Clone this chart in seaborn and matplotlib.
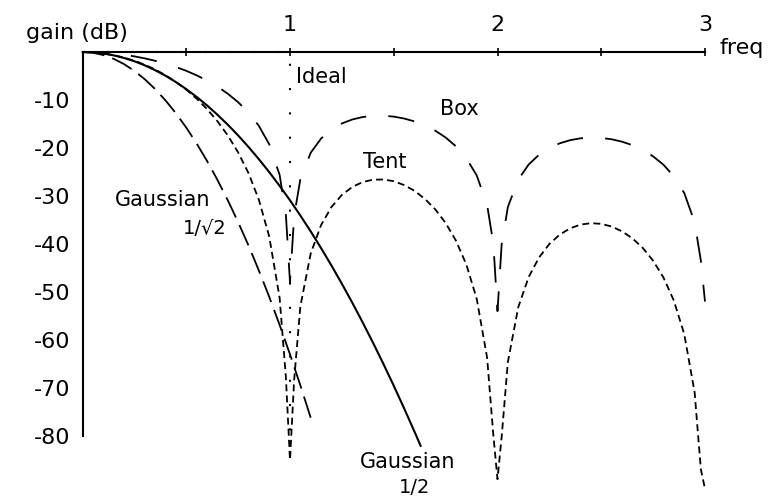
import matplotlib
matplotlib.use("Agg")
import matplotlib.pyplot as plt
import seaborn as sns
import pandas as pd

# Frequency grid shared by the box and tent responses
filter_freq = [
    0.00, 0.05, 0.10, 0.15, 0.20, 0.25, 0.30, 0.35, 0.40, 0.45,
    0.50, 0.55, 0.60, 0.65, 0.70, 0.75, 0.80, 0.85, 0.90, 0.95,
    0.98, 1.00, 1.02,
    1.05, 1.10, 1.15, 1.20, 1.25, 1.30, 1.35, 1.40, 1.45, 1.50,
    1.55, 1.60, 1.65, 1.70, 1.75, 1.80, 1.85, 1.90, 1.95,
    1.98, 2.00, 2.02,
    2.05, 2.10, 2.15, 2.20, 2.25, 2.30, 2.35, 2.40, 2.45, 2.50,
    2.55, 2.60, 2.65, 2.70, 2.75, 2.80, 2.85, 2.90, 2.95,
    2.98, 3.00,
]

box_gain = [
    0.00, -0.04, -0.14, -0.32, -0.58, -0.91, -1.33, -1.83, -2.42, -3.12,
    -3.92, -4.86, -5.94, -7.20, -8.69, -10.45, -12.62, -15.39, -19.23, -25.61,
    -33.81, -48.00, -34.16,
    -26.48, -20.97, -18.02, -16.14, -14.89, -14.06, -13.55, -13.30, -13.28, -13.46,
    -13.86, -14.46, -15.30, -16.39, -17.81, -19.66, -22.15, -25.72, -31.86,
    -39.92, -54.00, -40.09,
    -32.29, -26.59, -23.45, -21.41, -20.00, -19.02, -18.37, -17.98, -17.83, -17.90,
    -18.18, -18.68, -19.41, -20.41, -21.74, -23.50, -25.90, -29.39, -35.45,
    -43.47, -52.00,
]

tent_gain = [
    0.00, -0.07, -0.29, -0.65, -1.16, -1.82, -2.65, -3.65, -4.84, -6.23,
    -7.84, -9.72, -11.88, -14.41, -17.37, -20.91, -25.24, -30.78, -38.46, -51.22,
    -67.62, -85.00, -68.32,
    -52.96, -41.94, -36.04, -32.28, -29.78, -28.12, -27.10, -26.60, -26.56, -26.92,
    -27.72, -28.92, -30.60, -32.78, -35.62, -39.32, -44.30, -51.44, -63.72,
    -79.84, -89.00, -80.18,
    -64.58, -53.18, -46.90, -42.82, -40.00, -38.04, -36.74, -35.96, -35.66, -35.80,
    -36.36, -37.36, -38.82, -40.82, -43.48, -47.00, -51.80, -58.78, -70.90,
    -86.94, -91.00,
]

# Gaussian, sigma = 1/2
gauss_half_freq = [
    0.00, 0.05, 0.10, 0.15, 0.20, 0.25, 0.30, 0.35, 0.40, 0.45,
    0.50, 0.55, 0.60, 0.65, 0.70, 0.75, 0.80, 0.85, 0.90, 0.95,
    1.00, 1.05, 1.10, 1.15, 1.20, 1.25, 1.30, 1.35, 1.40, 1.45,
    1.50, 1.55, 1.60, 1.63,
]
gauss_half_gain = [
    0.00, -0.08, -0.31, -0.70, -1.24, -1.93, -2.78, -3.79, -4.94, -6.26,
    -7.73, -9.35, -11.12, -13.06, -15.14, -17.38, -19.78, -22.33, -25.03, -27.89,
    -30.90, -34.07, -37.39, -40.87, -44.50, -48.28, -52.22, -56.32, -60.56, -64.97,
    -69.53, -74.24, -79.10, -82.10,
]

# Gaussian, sigma = 1/sqrt(2)
gauss_root_freq = [
    0.00, 0.05, 0.10, 0.15, 0.20, 0.25, 0.30, 0.35, 0.40, 0.45,
    0.50, 0.55, 0.60, 0.65, 0.70, 0.75, 0.80, 0.85, 0.90, 0.95,
    1.00, 1.05, 1.10, 1.11,
]
gauss_root_gain = [
    0.00, -0.16, -0.63, -1.42, -2.52, -3.94, -5.67, -7.72, -10.08, -12.76,
    -15.75, -19.06, -22.68, -26.62, -30.87, -35.44, -40.32, -45.52, -51.03, -56.86,
    -63.00, -69.46, -76.23, -77.60,
]

# Ideal brick-wall cutoff at freq = 1
ideal_freq = [0.0, 1.0, 1.0]
ideal_gain = [0.0, 0.0, -85.0]

y_ticks = [-10, -20, -30, -40, -50, -60, -70, -80]
x_ticks = [0.5, 1.0, 1.5, 2.0, 2.5, 3.0]
x_tick_labels = ["", "1", "", "2", "", "3"]

sns.set_style("white")
plt.rcParams["font.family"] = ["DejaVu Sans"]
plt.rcParams["axes.unicode_minus"] = False
plt.rcParams["lines.scale_dashes"] = False

fig = plt.figure(figsize=(7.79, 4.97), dpi=100)
W, H = 779, 497
ax = fig.add_axes([82.5 / W, 0.0, 622.5 / W, (H - 52) / H])
ax.set_facecolor("white")

curves = [
    (filter_freq, box_gain, (0, (19, 16)), 1.3),
    (filter_freq, tent_gain, (0, (5, 3)), 1.3),
    (gauss_root_freq, gauss_root_gain, (0, (16, 6)), 1.3),
    (gauss_half_freq, gauss_half_gain, "-", 1.5),
    (ideal_freq, ideal_gain, (0, (1.5, 16)), 1.5),
]
for fx, gy, style, lw in curves:
    df = pd.DataFrame({"freq": fx, "gain": gy})
    sns.lineplot(data=df, x="freq", y="gain", color="black", linewidth=lw,
                 linestyle=style, estimator=None, sort=False, ax=ax,
                 clip_on=False)

ax.set_xlim(0, 3)
ax.set_ylim(-(H - 52) / 4.8, 0)

for side in ["right", "bottom"]:
    ax.spines[side].set_visible(False)
for side in ["top", "left"]:
    ax.spines[side].set_color("black")
    ax.spines[side].set_linewidth(1.5)
ax.spines["left"].set_bounds(-80, 0)

ax.xaxis.tick_top()
ax.set_xticks(x_ticks)
ax.set_xticklabels(x_tick_labels)
ax.set_yticks(y_ticks)
ax.set_yticklabels([str(v) for v in y_ticks])
ax.tick_params(axis="x", direction="inout", length=6, width=1.2, pad=9,
               labelsize=16, colors="black")
ax.tick_params(axis="y", direction="inout", length=7, width=1.2, pad=5,
               labelsize=16, colors="black")
ax.set_xlabel("")
ax.set_ylabel("")

txt = dict(color="black", fontsize=16)
ax.text(-0.027, 3.9, "gain (dB)", ha="center", va="center", clip_on=False, **txt)
ax.text(3.072, 0.8, "freq", ha="left", va="center", clip_on=False, **txt)
lab = dict(color="black", fontsize=15)
ax.text(1.029, -5.2, "Ideal", ha="left", va="center", **lab)
ax.text(1.723, -11.8, "Box", ha="left", va="center", **lab)
ax.text(1.352, -22.9, "Tent", ha="left", va="center", **lab)
ax.text(0.388, -30.8, "Gaussian", ha="center", va="center", **lab)
ax.text(0.590, -36.7, "1/\u221a2", ha="center", va="center", color="black", fontsize=14)
ax.text(1.569, -85.4, "Gaussian", ha="center", va="center", **lab)
ax.text(1.598, -90.8, "1/2", ha="center", va="center", color="black", fontsize=14)

fig.savefig("out.png", dpi=100, facecolor="white")
